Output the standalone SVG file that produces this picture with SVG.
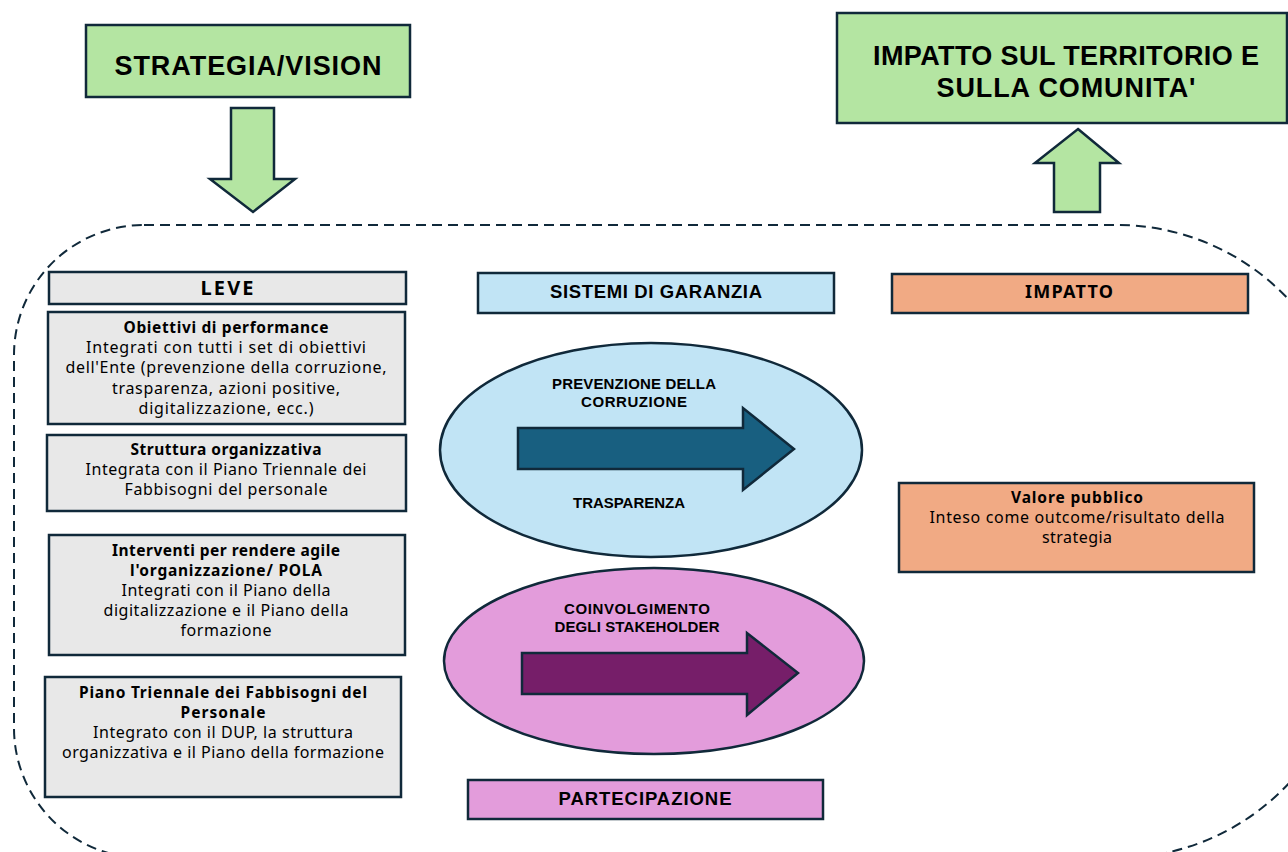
<svg xmlns="http://www.w3.org/2000/svg" width="1288" height="852" viewBox="0 0 1288 852">
<style>
.bx{stroke:#10293a;stroke-width:2.5}
.green{fill:#b4e5a2}
.gray{fill:#e8e8e8}
.blue{fill:#c1e4f5}
.pink{fill:#e39cdb}
.peach{fill:#f1aa84}
.ttl{font-family:"Liberation Sans",Arial,sans-serif;font-weight:bold;fill:#000;text-anchor:middle}
.hd{font-family:"Noto Sans","Open Sans",sans-serif;font-weight:bold;fill:#000;text-anchor:middle;font-size:18px}
.b{font-family:"Noto Sans","Open Sans",sans-serif;font-weight:bold;fill:#000;text-anchor:middle;font-size:15.5px}
.t{font-family:"Noto Sans","Open Sans",sans-serif;fill:#000;text-anchor:middle;font-size:16px}
.dash{fill:none;stroke:#10293a;stroke-width:2;stroke-dasharray:10 6}
</style>
<rect width="1288" height="852" fill="#fff"/>
<g id="connectors">
<path id="frame" class="dash" d="M144,225 H1117 A235,235 0 0 1 1352,460 V623 A235,235 0 0 1 1117,858 H144 A130,130 0 0 1 14,728 V355 A130,130 0 0 1 144,225 Z"/>
<polygon id="arrow-down" class="bx green" points="231,108 274,108 274,179 295,179 253,212 210,179 231,179"/>
<polygon id="arrow-up" class="bx green" points="1078,129 1119,163 1100,163 1100,212 1054,212 1054,163 1035,163"/>
</g>
<g id="strategia">
<rect class="bx green" x="86" y="25" width="324" height="72"/>
<text class="ttl" x="248" y="75" font-size="27" textLength="267" lengthAdjust="spacing">STRATEGIA/VISION</text>
</g>
<g id="impatto-territorio">
<rect class="bx green" x="837" y="13" width="450" height="110"/>
<text class="ttl" x="1066" y="65" font-size="27" textLength="386" lengthAdjust="spacing">IMPATTO SUL TERRITORIO E</text>
<text class="ttl" x="1066" y="97" font-size="27" textLength="259" lengthAdjust="spacing">SULLA COMUNITA'</text>
</g>
<g id="leve">
<rect class="bx gray" x="49" y="272" width="357" height="32"/>
<text class="hd" x="227" y="295" style="font-size:20px" textLength="53" lengthAdjust="spacing">LEVE</text>
</g>
<g id="obiettivi">
<rect class="bx gray" x="48" y="312" width="357" height="112"/>
<text class="b" x="226" y="333" textLength="205" lengthAdjust="spacing">Obiettivi di performance</text>
<text class="t" x="226" y="353" textLength="280" lengthAdjust="spacing">Integrati con tutti i set di obiettivi</text>
<text class="t" x="226" y="373" textLength="321" lengthAdjust="spacing">dell'Ente (prevenzione della corruzione,</text>
<text class="t" x="226" y="394" textLength="228" lengthAdjust="spacing">trasparenza, azioni positive,</text>
<text class="t" x="226" y="414" textLength="175" lengthAdjust="spacing">digitalizzazione, ecc.)</text>
</g>
<g id="struttura">
<rect class="bx gray" x="47" y="435" width="359" height="76"/>
<text class="b" x="226" y="455" textLength="191" lengthAdjust="spacing">Struttura organizzativa</text>
<text class="t" x="226" y="475" textLength="281" lengthAdjust="spacing">Integrata con il Piano Triennale dei</text>
<text class="t" x="226" y="495" textLength="203" lengthAdjust="spacing">Fabbisogni del personale</text>
</g>
<g id="interventi">
<rect class="bx gray" x="49" y="535" width="356" height="120"/>
<text class="b" x="226" y="556" textLength="228" lengthAdjust="spacing">Interventi per rendere agile</text>
<text class="b" x="226" y="576" textLength="192" lengthAdjust="spacing">l'organizzazione/ POLA</text>
<text class="t" x="226" y="596" textLength="209" lengthAdjust="spacing">Integrati con il Piano della</text>
<text class="t" x="226" y="616" textLength="245" lengthAdjust="spacing">digitalizzazione e il Piano della</text>
<text class="t" x="226" y="636" textLength="91" lengthAdjust="spacing">formazione</text>
</g>
<g id="piano-triennale">
<rect class="bx gray" x="45" y="677" width="356" height="120"/>
<text class="b" x="223" y="698" textLength="288" lengthAdjust="spacing">Piano Triennale dei Fabbisogni del</text>
<text class="b" x="223" y="718" textLength="85" lengthAdjust="spacing">Personale</text>
<text class="t" x="223" y="738" textLength="260" lengthAdjust="spacing">Integrato con il DUP, la struttura</text>
<text class="t" x="223" y="758" textLength="322" lengthAdjust="spacing">organizzativa e il Piano della formazione</text>
</g>
<g id="sistemi-garanzia">
<rect class="bx blue" x="478" y="273" width="356" height="40"/>
<text class="ttl" x="656" y="298" font-size="18.5" textLength="212" lengthAdjust="spacing">SISTEMI DI GARANZIA</text>
</g>
<g id="prevenzione">
<ellipse class="bx blue" cx="651" cy="450" rx="211" ry="107"/>
<polygon class="bx" fill="#185f80" points="518,428 743,428 743,408 794,449 743,490 743,469 518,469"/>
<text class="ttl" x="634" y="389" font-size="15" textLength="164" lengthAdjust="spacing">PREVENZIONE DELLA</text>
<text class="ttl" x="634" y="407" font-size="15" textLength="106" lengthAdjust="spacing">CORRUZIONE</text>
<text class="ttl" x="629" y="508" font-size="15" textLength="112" lengthAdjust="spacing">TRASPARENZA</text>
</g>
<g id="coinvolgimento">
<ellipse class="bx pink" cx="654" cy="661" rx="210" ry="93"/>
<polygon class="bx" fill="#761e69" points="522,653 747,653 747,633 798,673 747,715 747,694 522,694"/>
<text class="ttl" x="637" y="614" font-size="15" textLength="146" lengthAdjust="spacing">COINVOLGIMENTO</text>
<text class="ttl" x="637" y="632" font-size="15" textLength="165" lengthAdjust="spacing">DEGLI STAKEHOLDER</text>
</g>
<g id="partecipazione">
<rect class="bx pink" x="468" y="780" width="355" height="39"/>
<text class="ttl" x="645" y="805" font-size="18.5" textLength="173" lengthAdjust="spacing">PARTECIPAZIONE</text>
</g>
<g id="impatto">
<rect class="bx peach" x="892" y="274" width="356" height="39"/>
<text class="hd" x="1069" y="298" textLength="88" lengthAdjust="spacing">IMPATTO</text>
</g>
<g id="valore-pubblico">
<rect class="bx peach" x="899" y="483" width="355" height="89"/>
<text class="b" x="1077" y="503" textLength="132" lengthAdjust="spacing">Valore pubblico</text>
<text class="t" x="1077" y="523" textLength="295" lengthAdjust="spacing">Inteso come outcome/risultato della</text>
<text class="t" x="1077" y="543" textLength="70" lengthAdjust="spacing">strategia</text>
</g>
</svg>
